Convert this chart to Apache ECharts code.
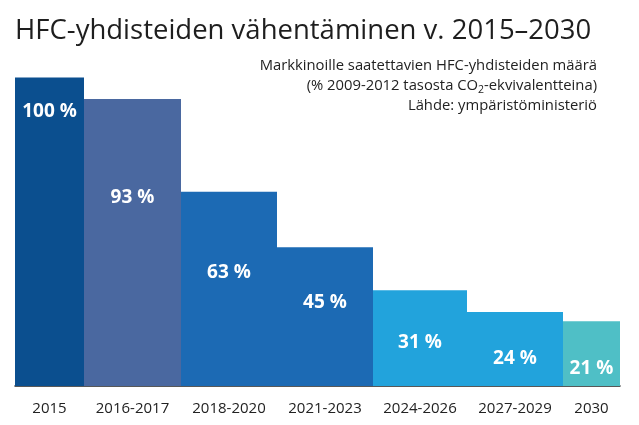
<!DOCTYPE html>
<html><head><meta charset="utf-8">
<script src="https://cdn.jsdelivr.net/npm/echarts@6/dist/echarts.min.js"></script>
<style>html,body{margin:0;padding:0;background:#fff}#c{width:639px;height:425px}</style>
</head><body><div id="c"></div>
<script>
const categories = ['2015', '2016-2017', '2018-2020', '2021-2023', '2024-2026', '2027-2029', '2030'];
const values = [100, 93, 63, 45, 31, 24, 21];
const valueLabels = ['100 %', '93 %', '63 %', '45 %', '31 %', '24 %', '21 %'];
const titleText = 'HFC-yhdisteiden vähentäminen v. 2015–2030';
const subtitleLines = ['Markkinoille saatettavien HFC-yhdisteiden määrä', ['(% 2009-2012 tasosta CO', '2', '-ekvivalentteina)'], 'Lähde: ympäristöministeriö'];

// layout / style (not data)
const barSpans = [69, 97, 96, 96, 94, 96, 57];
const labelAt = [89, 61, 36.7, 27, 14, 9, 5.8];
const colors = ['#0b4f8f', '#4a68a0', '#1c6ab4', '#1c6ab4', '#22a3dc', '#22a3dc', '#4fbfc6'];
const starts = []; let acc = 0; barSpans.forEach(w => { starts.push(acc); acc += w; });
const total = acc;
const FONT = 'Open Sans';

const subRich = '{a|' + subtitleLines[0] + '}\n{a|' + subtitleLines[1][0] + '}{s|' + subtitleLines[1][1] + '}{a|' + subtitleLines[1][2] + '}\n{a|' + subtitleLines[2] + '}';

const chart = echarts.init(document.getElementById('c'), null, {renderer: 'canvas'});
chart.setOption({
  animation: false,
  graphic: [{
    type: 'text', x: 15, y: 31,
    style: {text: titleText, align: 'left', verticalAlign: 'middle',
      fontFamily: FONT, fontSize: 27.5, fontWeight: 'normal', fill: '#1e1e1e'}
  }, {
    type: 'text', x: 597, y: 56,
    style: {
      text: subRich, align: 'right', verticalAlign: 'top',
      fontFamily: FONT, fontSize: 14.8, fontWeight: 'normal', fill: '#222', lineHeight: 20,
      rich: {
        a: {fontFamily: FONT, fontSize: 14.8, fontWeight: 'normal', fill: '#222', lineHeight: 20},
        s: {fontFamily: FONT, fontSize: 10.5, fontWeight: 'normal', fill: '#222', lineHeight: 20, verticalAlign: 'bottom', padding: [7, 0, 0, 0]}
      }
    }
  }],
  grid: {left: 15, right: 19, top: 77.5, bottom: 39},
  xAxis: {
    type: 'value', min: 0, max: total, offset: 5,
    axisLine: {show: true, lineStyle: {color: '#222', width: 1.5}},
    axisTick: {show: false}, axisLabel: {show: false}, splitLine: {show: false}
  },
  yAxis: {type: 'value', min: 0, max: 100, show: false, splitLine: {show: false}},
  series: [{
    type: 'custom',
    data: values.map((v, i) => [i, v]),
    renderItem: function (params, api) {
      const i = api.value(0);
      const v = api.value(1);
      const x0 = starts[i], x1 = starts[i] + barSpans[i];
      const p0 = api.coord([x0, v]);
      const p1 = api.coord([x1, 0]);
      const cx = (p0[0] + p1[0]) / 2;
      const ly = api.coord([0, labelAt[i]])[1];
      return {
        type: 'group',
        children: [{
          type: 'rect',
          shape: {x: p0[0], y: p0[1], width: p1[0] - p0[0], height: p1[1] - p0[1]},
          style: {fill: colors[i]}
        }, {
          type: 'text',
          style: {text: valueLabels[i], x: cx, y: ly, align: 'center', verticalAlign: 'middle',
            fontFamily: FONT, fontSize: 19, fontWeight: 'bold', fill: '#fff'}
        }, {
          type: 'text',
          style: {text: categories[i], x: cx, y: p1[1] + 23, align: 'center', verticalAlign: 'middle',
            fontFamily: FONT, fontSize: 15, fill: '#222'}
        }]
      };
    }
  }]
});
</script></body></html>
